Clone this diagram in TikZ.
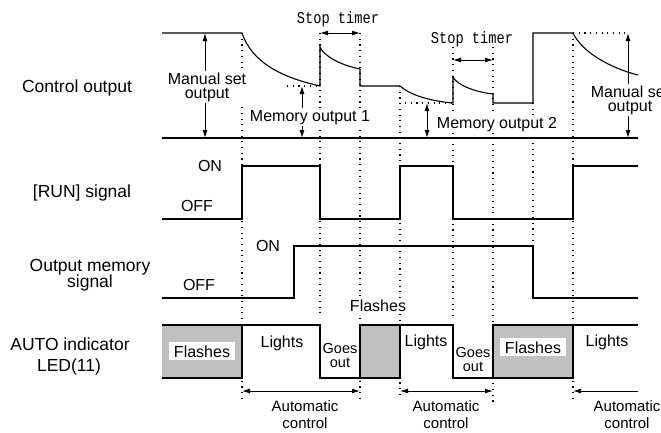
\documentclass[tikz,border=0pt]{standalone}
\usepackage{graphicx}
\usepackage{fontspec}
\setmainfont{Liberation Sans}
\newfontfamily\monofont{Liberation Mono}
\usetikzlibrary{arrows.meta}
\definecolor{ledgray}{RGB}{192,192,192}
\begin{document}
\begin{tikzpicture}[x=1pt,y=-1pt,
  >={Latex[length=8pt,width=5pt]},
  sig/.style={line width=1.1pt},
  guide/.style={line width=1.1pt, dash pattern=on 1.1pt off 4.6pt},
  dim/.style={line width=0.9pt,<->},
  txt/.style={inner sep=0pt, anchor=base, font=\fontsize{16}{18}\selectfont},
  bgtxt/.style={txt, fill=white, inner xsep=1pt, inner ysep=1.5pt},
  bgtwo/.style={fill=white, inner xsep=1pt, inner ysep=1.5pt, align=center, anchor=center, font=\fontsize{16}{14}\selectfont},
  rowtxt/.style={inner sep=0pt, anchor=base, font=\fontsize{17.5}{20}\selectfont},
  smalltxt/.style={inner sep=0pt, anchor=base, font=\fontsize{14.5}{16}\selectfont},
  autotxt/.style={inner sep=0pt, anchor=base, font=\fontsize{15}{17}\selectfont},
  monotxt/.style={inner sep=0pt, anchor=base},
  flashbox/.style={fill=white, inner xsep=5pt, inner ysep=3.3pt, anchor=base, font=\fontsize{16}{18}\selectfont}
]
\useasboundingbox (0,0) rectangle (661,432);
\clip (0,0) rectangle (661,432);

% gray LED boxes
\fill[ledgray] (162,325) rectangle (242,378);
\draw[sig] (162,378) -- (242,378) -- (242,325);
\filldraw[sig, fill=ledgray] (360,325) rectangle (400,378);
\filldraw[sig, fill=ledgray] (493,325) rectangle (573,378);

% guide lines
\draw[guide] (242,33) -- (242,403);
\draw[guide] (320,33) -- (320,318);
\draw[guide] (360,33) -- (360,398);
\draw[guide] (400,86) -- (400,396);
\draw[guide] (453,47) -- (453,318);
\draw[guide] (493,47) -- (493,403);
\draw[guide] (533,103) -- (533,246);
\draw[guide] (573,33) -- (573,400);
\draw[guide] (287,86) -- (320,86);
\draw[guide] (405,103) -- (453,103);
\draw[guide] (573,33) -- (628,33);

% dimension arrows
\draw[dim] (205,33) -- (205,138);
\draw[dim] (302,86) -- (302,138);
\draw[dim] (427,103) -- (427,138);
\draw[dim] (628,33) -- (628,138);
\draw[dim] (320,33) -- (360,33);
\draw[dim] (453,60) -- (493,60);
\draw[dim] (242,391) -- (360,391);
\draw[dim] (400,391) -- (493,391);
\draw[line width=0.9pt,->] (638,391) -- (573,391);

% labels with white background
\node[bgtwo] (ms1) at (207,87) {Manual set\\output};
\node[bgtxt] (mo1) at (310,121) {Memory output 1};
\node[bgtxt] (mo2) at (497,128) {Memory output 2};
\node[bgtwo] (ms2) at (630,100) {Manual set\\output};
\node[bgtxt] (fl2) at (378,311) {Flashes};

% stop timer labels
\node[monotxt] (st1) at (338,23) {\scalebox{0.83}[1]{\fontsize{16.5}{18}\monofont Stop timer}};
\node[monotxt] (st2) at (472,43) {\scalebox{0.83}[1]{\fontsize{16.5}{18}\monofont Stop timer}};

% control output waveform
\draw[sig] (162,138) -- (638,138);
\draw[sig] (162,33) -- (242,33)
  .. controls (252,62) and (280,77) .. (320,86) -- (320,47)
  .. controls (324,56) and (340,65) .. (360,69) -- (360,86) -- (400,86)
  .. controls (410,95) and (430,101) .. (453,103) -- (453,77)
  .. controls (457,85) and (475,92) .. (493,94) -- (493,103) -- (533,103)
  -- (533,33) -- (573,33)
  .. controls (582,52) and (610,68) .. (638,75);

% RUN signal
\draw[sig] (162,219) -- (242,219) -- (242,166) -- (320,166) -- (320,219)
  -- (400,219) -- (400,166) -- (453,166) -- (453,219) -- (573,219)
  -- (573,166) -- (638,166);

% output memory signal
\draw[sig] (162,298) -- (294,298) -- (294,246) -- (533,246) -- (533,298) -- (638,298);

% LED waveform
\draw[sig] (162,325) -- (320,325) -- (320,378) -- (360,378) -- (360,325)
  -- (453,325) -- (453,378) -- (493,378) -- (493,325) -- (638,325);

% row labels
\node[rowtxt] (r1) at (77,92) {Control output};
\node[rowtxt] (r2) at (82,197) {[RUN] signal};
\node[rowtxt] (r3a) at (90,271) {Output memory};
\node[rowtxt] (r3b) at (90,287) {signal};
\node[rowtxt] (r4a) at (70,350) {AUTO indicator};
\node[rowtxt] (r4b) at (69,371) {LED(11)};

% ON / OFF
\node[txt] (on1) at (210,171) {ON};
\node[txt] (off1) at (197,211) {OFF};
\node[txt] (on2) at (268,251) {ON};
\node[txt] (off2) at (199,290) {OFF};

% LED labels
\node[flashbox] (fl1) at (202,357) {Flashes};
\node[flashbox] (fl3) at (533,353) {Flashes};
\node[txt] (li1) at (282,347) {Lights};
\node[txt] (li2) at (426,346) {Lights};
\node[txt] (li3) at (607,346) {Lights};
\node[smalltxt] (go1) at (340,353) {Goes};
\node[smalltxt] (ou1) at (340,367) {out};
\node[smalltxt] (go2) at (473,357) {Goes};
\node[smalltxt] (ou2) at (473,371) {out};

% automatic control
\node[autotxt] (au1) at (305,411) {Automatic};
\node[autotxt] (co1) at (305,428) {control};
\node[autotxt] (au2) at (446,411) {Automatic};
\node[autotxt] (co2) at (446,428) {control};
\node[autotxt] (au3) at (627,411) {Automatic};
\node[autotxt] (co3) at (627,428) {control};
\end{tikzpicture}
\end{document}
